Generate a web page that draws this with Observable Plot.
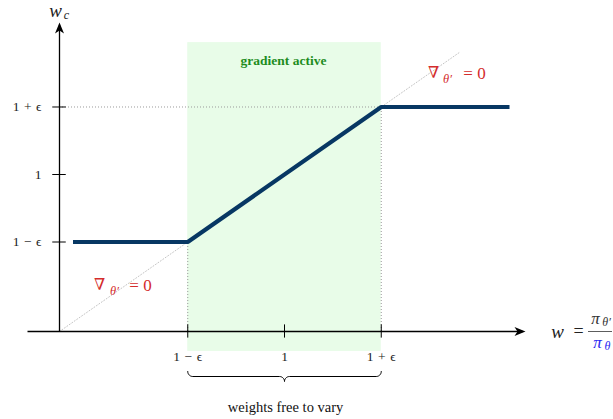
<!DOCTYPE html>
<html>
<head>
<meta charset="utf-8">
<script src="https://cdn.jsdelivr.net/npm/d3@7"></script>
<script src="https://cdn.jsdelivr.net/npm/@observablehq/plot@0.6"></script>
<style>
  html, body { margin: 0; padding: 0; background: #fff; }
  svg { display: block; }
</style>
</head>
<body>
<div id="chart"></div>
<script>
// ---- data ----
const eps = 0.43;
const tickValues = [1 - eps, 1, 1 + eps];
const tickLabels = ["1\u2004\u2212\u2004\u03f5", "1", "1\u2004+\u2004\u03f5"];
const clipW  = [0.06, 1 - eps, 1 + eps, 2.0];
const clipWc = [1 - eps, 1 - eps, 1 + eps, 1 + eps];
const diagW  = [0, 1.78];
const xAxisExtent = [-0.14, 2.06];
const yAxisExtent = [0, 1.95];
const activeBand = [1 - eps, 1 + eps];
const activeBandY = [-0.127, 1.84];

// scale geometry (px per unit)
const X0 = 59, KX = 225, Y0 = 331, KY = 157;
// annotation placement helpers (pixel -> data units)
const AX = px => (px - X0) / KX;
const AY = py => (Y0 - py) / KY;

const clipData = clipW.map((w, i) => ({w, wc: clipWc[i]}));
const diagData = diagW.map(w => ({w, wc: w}));

// brace under the active band
function bracePoints(a, b, yTop) {
  const r = 5, pts = [], m = (a + b) / 2;
  const P = (dxpx, dypx, base) => ({w: base + dxpx / KX, wc: yTop - dypx / KY});
  for (let t = 0; t <= 10; t++) { const th = Math.PI - t / 10 * Math.PI / 2; pts.push(P(r + r * Math.cos(th), r * Math.sin(th), a)); }
  for (let t = 0; t <= 10; t++) { const th = -Math.PI / 2 + t / 10 * Math.PI / 2; pts.push(P(-r + r * Math.cos(th), 2 * r + r * Math.sin(th), m)); }
  for (let t = 0; t <= 10; t++) { const th = Math.PI + t / 10 * Math.PI / 2; pts.push(P(r + r * Math.cos(th), 2 * r + r * Math.sin(th), m)); }
  for (let t = 0; t <= 10; t++) { const th = Math.PI / 2 - t / 10 * Math.PI / 2; pts.push(P(-r + r * Math.cos(th), r * Math.sin(th), b)); }
  return pts;
}
const brace = bracePoints(1 - eps, 1 + eps, AY(371));

// stealth arrow head pointing up, tip at origin
const stealth = {
  draw(ctx) {
    ctx.moveTo(0, 0);
    ctx.lineTo(4.5, 11);
    ctx.lineTo(0, 8);
    ctx.lineTo(-4.5, 11);
    ctx.closePath();
  }
};

const serif = "'Liberation Serif', 'DejaVu Serif', serif";
const red = "#d42c2c";
const tx = (o) => Object.assign({fontFamily: serif, fontSize: 13, textAnchor: "middle", lineAnchor: "middle", fill: "#222"}, o);
const label = (s, px, py, o) => Plot.text([s], {x: AX(px), y: AY(py), text: d => d, ...tx(o)});

const chart = Plot.plot({
  width: 613,
  height: 419,
  margin: 0,
  style: {background: "#fff", overflow: "visible"},
  x: {domain: [0, 1], range: [X0, X0 + KX], axis: null},
  y: {domain: [0, 1], range: [Y0, Y0 - KY], axis: null},
  marks: [
    // green band
    Plot.rect([0], {x1: activeBand[0], x2: activeBand[1], y1: activeBandY[0], y2: activeBandY[1], fill: "#e8fce8"}),
    // dotted guides
    Plot.line(diagData, {x: "w", y: "wc", stroke: "#c4c4c4", strokeWidth: 1, strokeDasharray: "1,2"}),
    Plot.ruleY([1 + eps], {x1: 0, x2: 1 + eps, stroke: "#9a9a9a", strokeWidth: 1, strokeDasharray: "1,2"}),
    Plot.ruleX([1 - eps], {y1: 0, y2: 1 - eps, stroke: "#9a9a9a", strokeWidth: 1, strokeDasharray: "1,2"}),
    Plot.ruleX([1 + eps], {y1: 0, y2: 1 + eps, stroke: "#9a9a9a", strokeWidth: 1, strokeDasharray: "1,2"}),
    // axes
    Plot.ruleY([0], {x1: xAxisExtent[0], x2: xAxisExtent[1], stroke: "#000", strokeWidth: 1.3}),
    Plot.ruleX([0], {y1: yAxisExtent[0], y2: yAxisExtent[1], stroke: "#000", strokeWidth: 1.3}),
    Plot.dot([0], {x: AX(525), y: 0, symbol: stealth, fill: "#000", stroke: null, rotate: 90}),
    Plot.dot([0], {x: 0, y: AY(22), symbol: stealth, fill: "#000", stroke: null}),
    // ticks
    Plot.ruleX(tickValues, {y1: -0.042, y2: 0.042, stroke: "#000", strokeWidth: 1}),
    Plot.ruleY(tickValues, {x1: -0.03, x2: 0.03, stroke: "#000", strokeWidth: 1}),
    Plot.text(tickValues, {x: d => d, y: AY(356), text: (d, i) => tickLabels[i], ...tx({fontSize: 13.5})}),
    Plot.text(tickValues, {x: AX(41), y: d => d, text: (d, i) => tickLabels[i], ...tx({fontSize: 13.5, textAnchor: "end"})}),
    // clipped weight
    Plot.line(clipData, {x: "w", y: "wc", stroke: "#073763", strokeWidth: 4.2, strokeLinejoin: "miter", strokeLinecap: "butt"}),
    // brace + caption
    Plot.line(brace, {x: "w", y: "wc", stroke: "#000", strokeWidth: 1}),
    label("weights free to vary", 285, 407, {fontSize: 14.5, fill: "#111"}),
    // band label
    label("gradient active", 283, 60, {fontSize: 13.5, fontWeight: "bold", fill: "#1e8c1e"}),
    // axis labels
    label("w", 55, 10, {fontSize: 19, fontStyle: "italic"}),
    label("c", 66, 15, {fontSize: 12, fontStyle: "italic"}),
    label("w", 557, 331, {fontSize: 19, fontStyle: "italic"}),
    label("=", 578, 331, {fontSize: 18}),
    Plot.ruleY([0], {x1: AX(588), x2: AX(612), stroke: "#333", strokeWidth: 0.8}),
    label("\u03c0", 595, 318, {fontSize: 17, fontStyle: "italic", fill: "#333"}),
    label("\u03b8\u2032", 606, 322, {fontSize: 12, fontStyle: "italic", fill: "#333"}),
    label("\u03c0", 597, 342, {fontSize: 17, fontStyle: "italic", fill: "#2a2af0"}),
    label("\u03b8", 607, 346, {fontSize: 12, fontStyle: "italic", fill: "#2a2af0"}),
    // gradient zero labels
    label("\u2207", 433, 72, {fontSize: 16, fill: red}),
    label("\u03b8\u2032", 447, 78, {fontSize: 12.5, fontStyle: "italic", fill: red}),
    label("= 0", 474, 73, {fontSize: 17, fill: red}),
    label("\u2207", 99, 284, {fontSize: 16, fill: red}),
    label("\u03b8\u2032", 114, 290, {fontSize: 12.5, fontStyle: "italic", fill: red}),
    label("= 0", 140, 285, {fontSize: 17, fill: red})
  ]
});
document.getElementById("chart").appendChild(chart);
</script>
</body>
</html>
